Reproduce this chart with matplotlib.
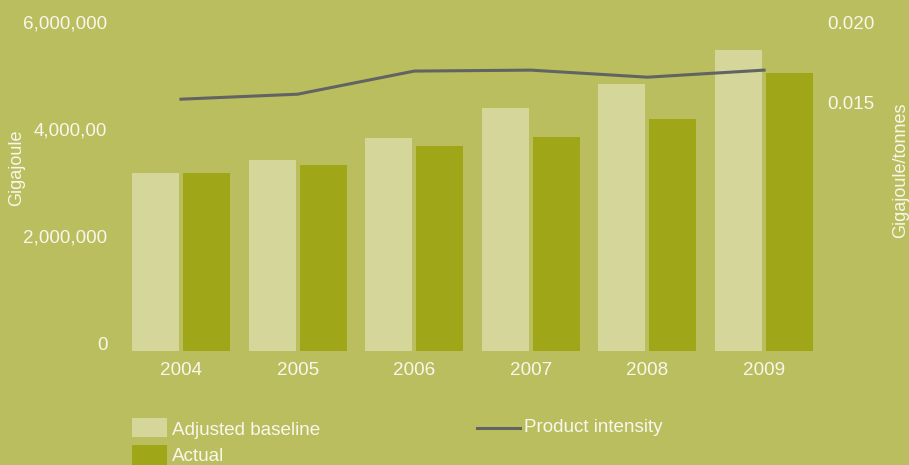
import matplotlib.pyplot as plt
import numpy as np
from matplotlib.patches import Rectangle
from matplotlib.lines import Line2D
from matplotlib.transforms import ScaledTranslation

# data
years = ['2004', '2005', '2006', '2007', '2008', '2009']
baseline = [3330000, 3570000, 3980000, 4540000, 4990000, 5630000]
actual = [3330000, 3480000, 3830000, 4000000, 4340000, 5200000]
intensity = [0.01569, 0.0160, 0.01744, 0.0175, 0.01706, 0.0175]

left_ticks = [0, 2000000, 4000000, 6000000]
left_labels = ['0', '2,000,000', '4,000,00', '6,000,000']
right_ticks = [0.015, 0.020]
right_labels = ['0.015', '0.020']

bg = '#BBBE5E'
light = '#D5D69A'
dark = '#9FA617'
grey = '#616462'
txt = '#F7F7EC'

plt.rcParams['font.family'] = ['Liberation Sans', 'DejaVu Sans']
plt.rcParams['font.size'] = 13.6

W, H = 909, 465
fig = plt.figure(figsize=(W / 100, H / 100), dpi=100, facecolor=bg)
ax = fig.add_axes([120 / W, 114 / H, 695 / W, 321 / H])
ax.set_facecolor(bg)

x = np.arange(len(years))
bw = 0.403
off = 0.219
ax.bar(x - off, baseline, bw, color=light, zorder=2)
ax.bar(x + off, actual, bw, color=dark, zorder=2)

ax.set_xlim(-0.523, 5.437)
ax.set_ylim(0, 6000000)
ax.set_xticks(x)
ax.set_xticklabels(years, color=txt)
ax.set_yticks(left_ticks)
ax.set_yticklabels(left_labels, color=txt)
ax.tick_params(axis='both', length=0)
ax.tick_params(axis='y', pad=9)
ax.tick_params(axis='x', pad=8)
for s in ax.spines.values():
    s.set_visible(False)

# labels sit a bit above their tick values in the original
shift = ScaledTranslation(0, 8 / 100, fig.dpi_scale_trans)
for lab in ax.get_yticklabels():
    lab.set_transform(lab.get_transform() + shift)

ax.set_ylabel('Gigajoule', color=txt, fontsize=13)
ax.yaxis.set_label_coords((25 - 120) / 695, (351 - 168) / 321)

ax2 = ax.twinx()
ax2.plot(x, intensity, color=grey, lw=2.2, zorder=3)
ax2.set_ylim(0, 0.020)
ax2.set_yticks(right_ticks)
ax2.set_yticklabels(right_labels, color=txt)
ax2.tick_params(axis='y', length=0, pad=9)
for s in ax2.spines.values():
    s.set_visible(False)
for lab in ax2.get_yticklabels():
    lab.set_transform(lab.get_transform() + shift)
ax2.set_ylabel('Gigajoule/tonnes', color=txt, fontsize=13)
ax2.yaxis.set_label_coords((892 - 120) / 695, (351 - 170) / 321)

# legend drawn by hand, in figure pixels
def fx(px):
    return px / W

def fy(py):
    return 1 - py / H

fig.add_artist(Rectangle((fx(132), fy(437)), 35 / W, 19 / H, transform=fig.transFigure,
                         color=light, lw=0))
fig.add_artist(Rectangle((fx(132), fy(465)), 35 / W, 20 / H, transform=fig.transFigure,
                         color=dark, lw=0))
fig.text(fx(172), fy(430), 'Adjusted baseline', color=txt, va='center', ha='left')
fig.text(fx(172), fy(456), 'Actual', color=txt, va='center', ha='left')
fig.add_artist(Line2D([fx(477), fx(520)], [fy(428), fy(428)], transform=fig.transFigure,
                      color=grey, lw=2.2))
fig.text(fx(524), fy(427), 'Product intensity', color=txt, va='center', ha='left')

fig.savefig('out.png', dpi=100, facecolor=bg)
